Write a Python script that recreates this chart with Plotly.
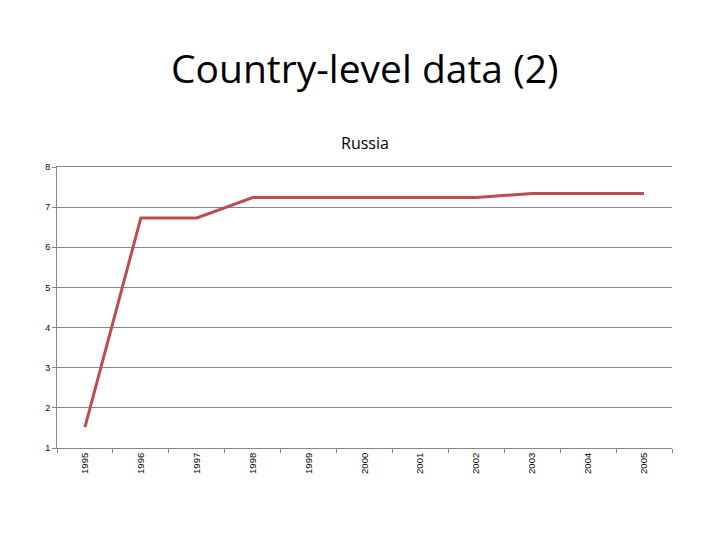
import plotly.graph_objects as go

years = ["1995", "1996", "1997", "1998", "1999", "2000", "2001", "2002", "2003", "2004", "2005"]
values = [1.52, 6.73, 6.73, 7.24, 7.24, 7.24, 7.24, 7.24, 7.34, 7.34, 7.34]
y_ticks = [1, 2, 3, 4, 5, 6, 7, 8]

OFF = 8  # page offset
T, B, L, R = 167 - OFF, 92 + OFF, 57 - OFF, 48 + OFF

fig = go.Figure()
fig.add_trace(go.Scatter(
    x=years, y=values, mode="lines",
    line=dict(color="#B9504E", width=3),
    showlegend=False,
))

plot_h = 540 - T - B
def py(pix):
    return (540 - B - (pix - OFF)) / plot_h

fig.update_layout(
    width=720, height=540,
    paper_bgcolor="white", plot_bgcolor="white",
    margin=dict(l=L, r=R, t=T, b=B),
    font=dict(family="Liberation Sans, Arial", color="black"),
    annotations=[
        dict(text="Country-level data (2)", x=0.5, y=py(68), xref="paper", yref="paper",
             yanchor="middle", showarrow=False,
             font=dict(family="Open Sans", size=39, color="black")),
        dict(text="Russia", x=0.5, y=py(143), xref="paper", yref="paper",
             yanchor="middle", showarrow=False,
             font=dict(family="Open Sans", size=16, color="black")),
    ],
)

fig.update_xaxes(
    type="category", range=[-0.5, 10.5],
    tickangle=-90, tickfont=dict(size=9.5),
    showline=True, linecolor="#868686", linewidth=1, mirror=True,
    showgrid=False, ticks="outside", ticklen=4, tickcolor="#868686",
    tickson="boundaries",
)
fig.update_yaxes(
    range=[1, 8], tickvals=y_ticks, tickfont=dict(size=9),
    showline=True, linecolor="#868686", linewidth=1,
    showgrid=True, gridcolor="#868686", gridwidth=1,
    ticks="outside", ticklen=4, tickcolor="#868686", zeroline=False,
)

fig.write_html("out.html")
